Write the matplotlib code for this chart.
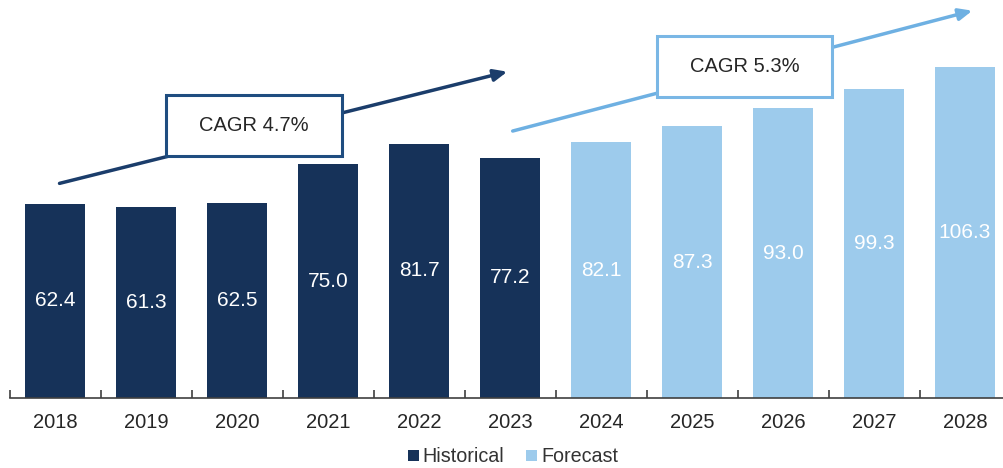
import matplotlib
matplotlib.use("Agg")
import matplotlib.pyplot as plt
from matplotlib.patches import Rectangle, Patch
import numpy as np

years = ["2018", "2019", "2020", "2021", "2022", "2023", "2024", "2025", "2026", "2027", "2028"]
values = [62.4, 61.3, 62.5, 75.0, 81.7, 77.2, 82.1, 87.3, 93.0, 99.3, 106.3]
is_forecast = [False] * 6 + [True] * 5
cagr_hist = "CAGR 4.7%"
cagr_fore = "CAGR 5.3%"

DARK = "#163259"
LIGHT = "#9dcbec"
DARK_ARROW = "#1b3d6b"
LIGHT_ARROW = "#6eb0e2"
DARK_BOX = "#1f4d80"
LIGHT_BOX = "#7ab7e5"

plt.rcParams['font.family'] = ['Liberation Sans', 'DejaVu Sans']

fig = plt.figure(figsize=(10.04, 4.68), dpi=100)
W, H = 1004, 468
ax = fig.add_axes([9.5 / W, (H - 398) / H, 1001 / W, 398 / H])

x = np.arange(len(years))
colors = [LIGHT if f else DARK for f in is_forecast]
bars = ax.bar(x, values, width=0.66, color=colors, zorder=2)
for xi, v in zip(x, values):
    ax.text(xi, v / 2, f"{v:.1f}", ha="center", va="center", color="white", fontsize=15)

ax.set_xlim(-0.5, len(years) - 0.5)
ax.set_ylim(0, 127.8)
for s in ["top", "right", "left"]:
    ax.spines[s].set_visible(False)
ax.spines["bottom"].set_color("#404040")
ax.spines["bottom"].set_linewidth(1.2)
ax.set_yticks([])
ax.set_xticks(x)
ax.set_xticklabels(years, fontsize=14.5, color="#262626")
ax.tick_params(axis="x", which="major", length=0, pad=11)
ax.set_xticks(np.arange(-0.5, len(years), 1.0), minor=True)
ax.tick_params(axis="x", which="minor", direction="in", length=5.5, width=1.2, color="#404040")

# CAGR arrows
ax.annotate("", xy=(5.0, 105.0), xytext=(0.02, 68.7),
            arrowprops=dict(arrowstyle="-|>,head_length=0.8,head_width=0.35", color=DARK_ARROW, lw=2.5),
            zorder=3)
ax.annotate("", xy=(10.11, 124.6), xytext=(5.0, 85.5),
            arrowprops=dict(arrowstyle="-|>,head_length=0.8,head_width=0.35", color=LIGHT_ARROW, lw=2.5),
            zorder=3)

# CAGR boxes
ax.add_patch(Rectangle((1.22, 77.7), 1.934, 19.6, facecolor="white", edgecolor=DARK_BOX, lw=2.2, zorder=4))
ax.text(1.22 + 1.934 / 2, 77.7 + 9.8, cagr_hist, ha="center", va="center", fontsize=14.5, color="#262626", zorder=5)
ax.add_patch(Rectangle((6.615, 96.7), 1.923, 19.5, facecolor="white", edgecolor=LIGHT_BOX, lw=2.2, zorder=4))
ax.text(6.615 + 1.923 / 2, 96.7 + 9.75, cagr_fore, ha="center", va="center", fontsize=14.5, color="#262626", zorder=5)

handles = [Patch(facecolor=DARK, label="Historical"), Patch(facecolor=LIGHT, label="Forecast")]
fig.legend(handles=handles, loc="center", bbox_to_anchor=(513 / W, 1 - 457 / H), ncol=2, frameon=False,
           fontsize=14.2, handlelength=0.55, handleheight=0.55, handletextpad=0.2, columnspacing=1.1,
           labelcolor="#333333")

fig.savefig("out.png", dpi=100)
